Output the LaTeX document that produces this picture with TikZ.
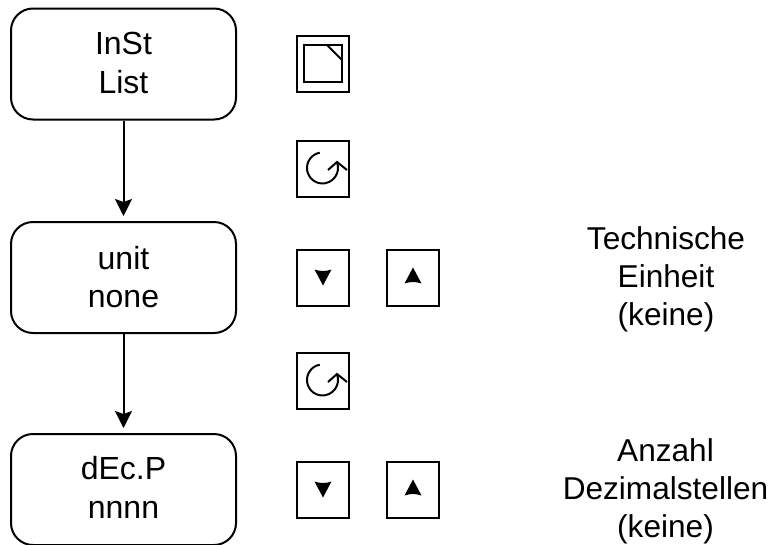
\documentclass[tikz,border=0pt]{standalone}
\usepackage{fontspec}
\setmainfont{Liberation Sans}
\usetikzlibrary{arrows.meta}
\tikzset{
  x=1pt,y=-1pt,
  stepbox/.style={draw=black,line width=2pt,rounded corners=22pt,minimum width=225pt,minimum height=111pt,inner sep=0pt,align=center,font=\fontsize{32}{38.5}\selectfont},
  keybox/.style={draw=black,line width=2pt,minimum width=52pt,minimum height=56pt,inner sep=0pt},
  flow/.style={line width=2pt,-{Stealth[length=17pt,width=17pt,inset=3pt]},shorten >=5pt},
  iconline/.style={line width=2pt},
  note/.style={align=center,font=\fontsize{31.6}{38}\selectfont},
}
\newcommand{\tridown}[2]{\fill[black] (#1-8.5,#2-6.5) .. controls (#1-3,#2-4.5) and (#1+3,#2-4.5) .. (#1+8.5,#2-6.5) -- (#1,#2+9.5) -- cycle;}
\newcommand{\triup}[2]{\fill[black] (#1-8.5,#2+6.5) .. controls (#1-3,#2+4.5) and (#1+3,#2+4.5) .. (#1+8.5,#2+6.5) -- (#1,#2-9.5) -- cycle;}
\newcommand{\refreshicon}[2]{%
  \draw[iconline] (#1-2.7,#2-15.3) arc[start angle=260,end angle=-22,radius=15.5];
  \draw[iconline] (#1+5.5,#2+2) -- (#1+14.5,#2-6) -- (#1+24.5,#2+2);
}
\begin{document}
\begin{tikzpicture}
\useasboundingbox (0,0) rectangle (774,544);
\clip (0,0) rectangle (774,544);
\node[stepbox] (inst) at (123.5,64) {\raisebox{2pt}{InSt}\\\raisebox{2pt}{List}};
\node[stepbox] (unit) at (123.5,277.5) {\raisebox{1pt}{unit}\\\raisebox{1pt}{none}};
\node[stepbox] (decp) at (123.5,489.5) {\raisebox{4pt}{dEc.P}\\\raisebox{4pt}{nnnn}};
\draw[flow] (inst) -- (unit);
\draw[flow] (unit) -- (decp);
\node[keybox] (enter) at (323,64) {};
\draw[iconline] (304,45) rectangle (342,82);
\draw[iconline] (327,45) -- (342,60);
\node[keybox] (rot1) at (323,169) {};
\refreshicon{322.5}{168}
\node[keybox] (down1) at (323,277.5) {};
\tridown{323}{276}
\node[keybox] (up1) at (413,277.5) {};
\triup{413}{277}
\node[keybox] (rot2) at (323,381) {};
\refreshicon{322.5}{380}
\node[keybox] (down2) at (323,489.5) {};
\tridown{323}{488}
\node[keybox] (up2) at (413,489.5) {};
\triup{413}{489}
\node[note] (n1) at (666,279) {Technische\\Einheit\\(keine)};
\node[note] (n2) at (665.5,491) {Anzahl\\Dezimalstellen\\(keine)};
\end{tikzpicture}
\end{document}
